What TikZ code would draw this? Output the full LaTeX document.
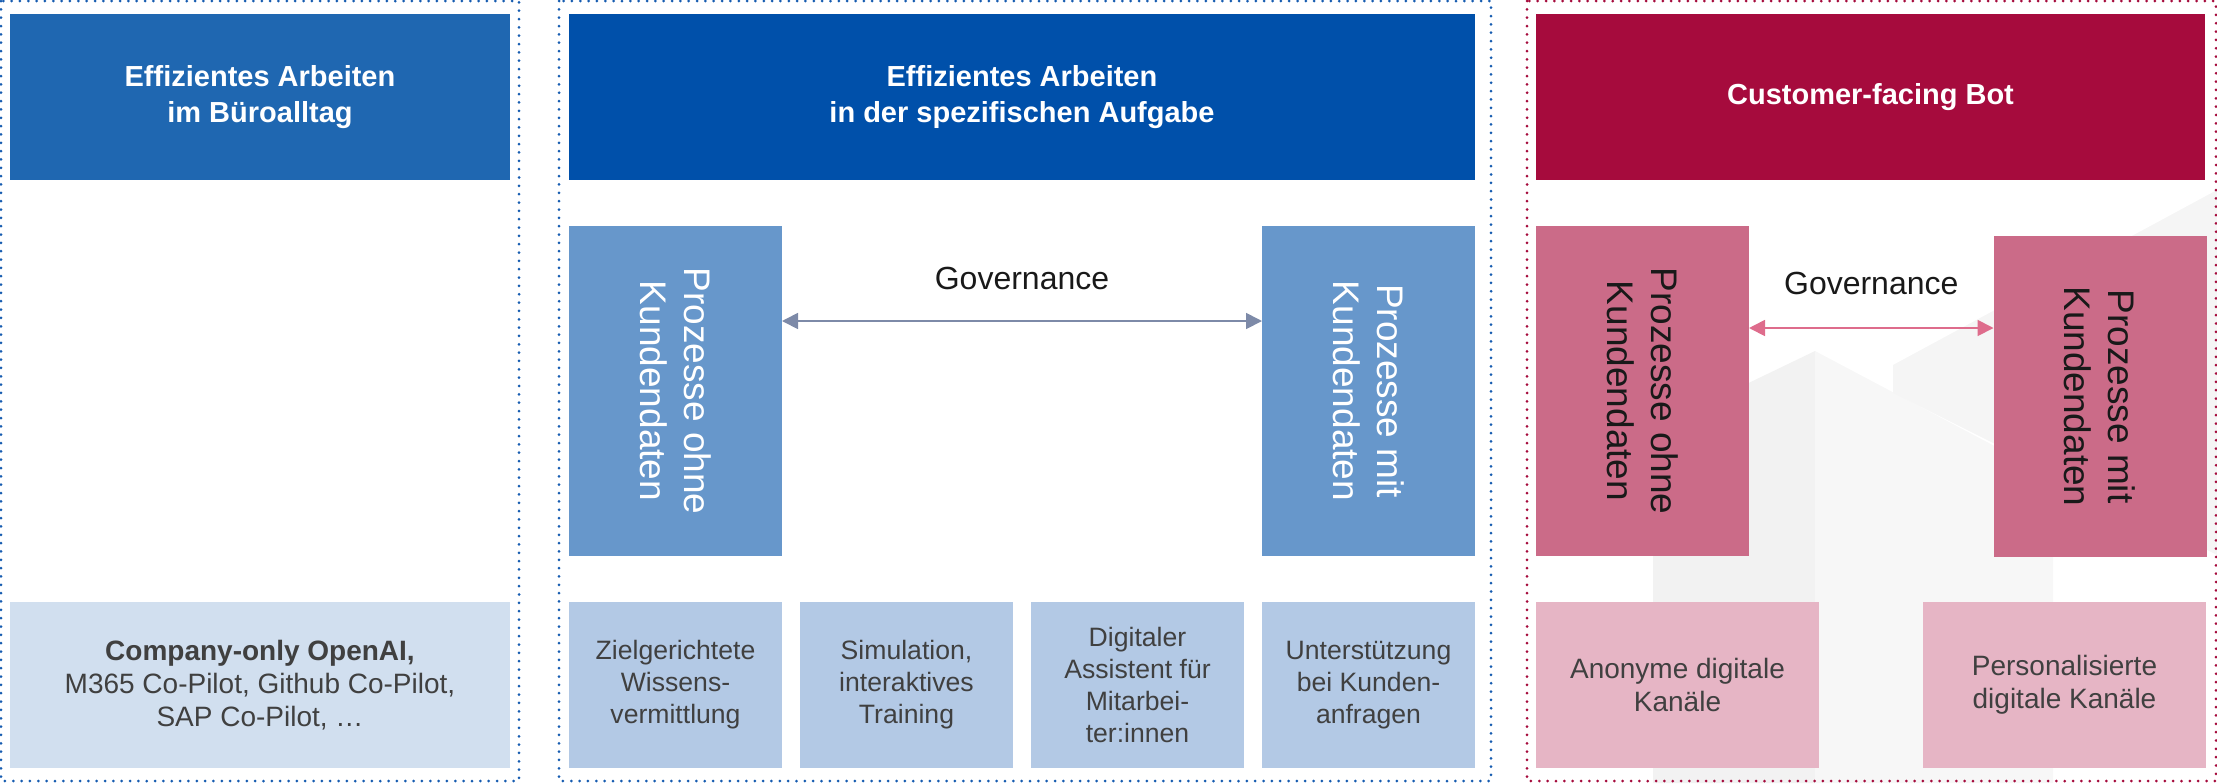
\documentclass[tikz,border=0pt]{standalone}
\usepackage{fontspec}
\setmainfont{Liberation Sans}
\usetikzlibrary{arrows.meta}
\usetikzlibrary{positioning}

\definecolor{titleone}{RGB}{31,103,177}
\definecolor{titletwo}{RGB}{0,80,170}
\definecolor{titlethree}{RGB}{166,11,61}
\definecolor{bluemid}{RGB}{103,151,203}
\definecolor{bluepale}{RGB}{179,201,229}
\definecolor{bluefaint}{RGB}{209,223,239}
\definecolor{pinkmid}{RGB}{203,107,136}
\definecolor{pinkpale}{RGB}{230,181,197}
\definecolor{bluedots}{RGB}{22,92,176}
\definecolor{reddots}{RGB}{165,11,60}
\definecolor{arrowblue}{RGB}{125,138,168}
\definecolor{arrowpink}{RGB}{222,108,140}
\definecolor{textgray}{RGB}{64,64,64}

\tikzset{
  panel/.style={line width=1.5pt, dash pattern=on 0pt off 4.17pt, line cap=round},
  cell/.style={rectangle, inner sep=0pt, outer sep=0pt, align=center},
  titlebox/.style={cell, minimum height=83pt, text=white, font=\bfseries\fontsize{14.5}{18}\selectfont},
  infobox/.style={cell, minimum height=83pt, text=textgray, font=\fontsize{14}{16.5}\selectfont},
  taskbox/.style={cell, fill=bluepale, minimum width=106.5pt, minimum height=83pt, text=textgray, font=\fontsize{13.3}{16}\selectfont},
  procbox/.style={cell, minimum width=106.5pt, minimum height=165pt},
  proclabel/.style={rotate=-90, align=center, inner sep=0pt, font=\fontsize{18.5}{22}\selectfont},
  gov/.style={line width=0.9pt, <->, >={Triangle[length=8pt,width=8pt]}},
  govlabel/.style={inner sep=0pt, text=black!90, font=\fontsize{16}{19}\selectfont}
}

\begin{document}
\begin{tikzpicture}[x=0.5pt, y=-0.5pt, node distance=9pt]
    \useasboundingbox (0,0) rectangle (2217,783);
    % faint shapes behind the bot panel
    \fill[black!5] (1653,783) -- (1653,429) -- (1815,351) -- (1815,783) -- cycle;
    \fill[black!3] (1815,351) -- (2053,477) -- (2053,783) -- (1815,783) -- cycle;
    \fill[black!4] (1893,365) -- (2217,190) -- (2217,555) -- (1893,393) -- cycle;

    % dotted panels
    \draw[panel, bluedots] (1,1) rectangle (519,781);
    \draw[panel, bluedots] (559,1) rectangle (1491,781);
    \draw[panel, reddots] (1527,1) rectangle (2216,781);

    % office work
    \node[titlebox, fill=titleone, minimum width=250pt] (t1) at (260,97) {Effizientes Arbeiten\\im Büroalltag};
    \node[infobox, fill=bluefaint, minimum width=250pt] (b1) at (260,685) {\textbf{Company-only OpenAI,}\\M365 Co-Pilot, Github Co-Pilot,\\SAP Co-Pilot, …};

    % specific tasks
    \node[titlebox, fill=titletwo, minimum width=453pt] (t2) at (1022,97) {Effizientes Arbeiten\\in der spezifischen Aufgabe};
    \node[taskbox] (u1) at (675.5,685) {Zielgerichtete\\Wissens-\\vermittlung};
    \node[taskbox] (u2) [right=of u1] {Simulation,\\interaktives\\Training};
    \node[taskbox] (u3) [right=of u2] {Digitaler\\Assistent für\\Mitarbei-\\ter:innen};
    \node[taskbox] (u4) [right=of u3] {Unterstützung\\bei Kunden-\\anfragen};
    \node[procbox, fill=bluemid] (p1) [above=23pt of u1] {};
    \node[procbox, fill=bluemid] (p2) [above=23pt of u4] {};
    \node[proclabel, text=white] (p1text) at (p1) {Prozesse ohne\\Kundendaten};
    \node[proclabel, text=white] (p2text) at (p2) {Prozesse mit\\Kundendaten};
    \draw[gov, arrowblue] ([yshift=35pt]p1.east) -- ([yshift=35pt]p2.west)
        node[govlabel, midway, above=15pt] (g1) {Governance};

    % customer bot
    \node[titlebox, fill=titlethree, minimum width=334.5pt] (t3) at (1870.5,97) {Customer-facing Bot};
    \node[infobox, fill=pinkpale, minimum width=141.5pt] (k1) at (1677.5,685) {Anonyme digitale\\Kanäle};
    \node[infobox, fill=pinkpale, minimum width=141.5pt] (k2) at (2064.5,685) {Personalisierte\\digitale Kanäle};
    \node[procbox, fill=pinkmid] (q1) at (1642.5,391) {};
    \node[procbox, fill=pinkmid, minimum height=160.5pt] (q2) at (2100,396.5) {};
    \node[proclabel, text=black!90] (q1text) at (q1) {Prozesse ohne\\Kundendaten};
    \node[proclabel, text=black!90] (q2text) at (q2) {Prozesse mit\\Kundendaten};
    \coordinate (qa) at ([yshift=31.5pt]q1.east);
    \draw[gov, arrowpink] (qa) -- (qa -| q2.west)
        node[govlabel, midway, above=16pt] (g2) {Governance};
\end{tikzpicture}
\end{document}
